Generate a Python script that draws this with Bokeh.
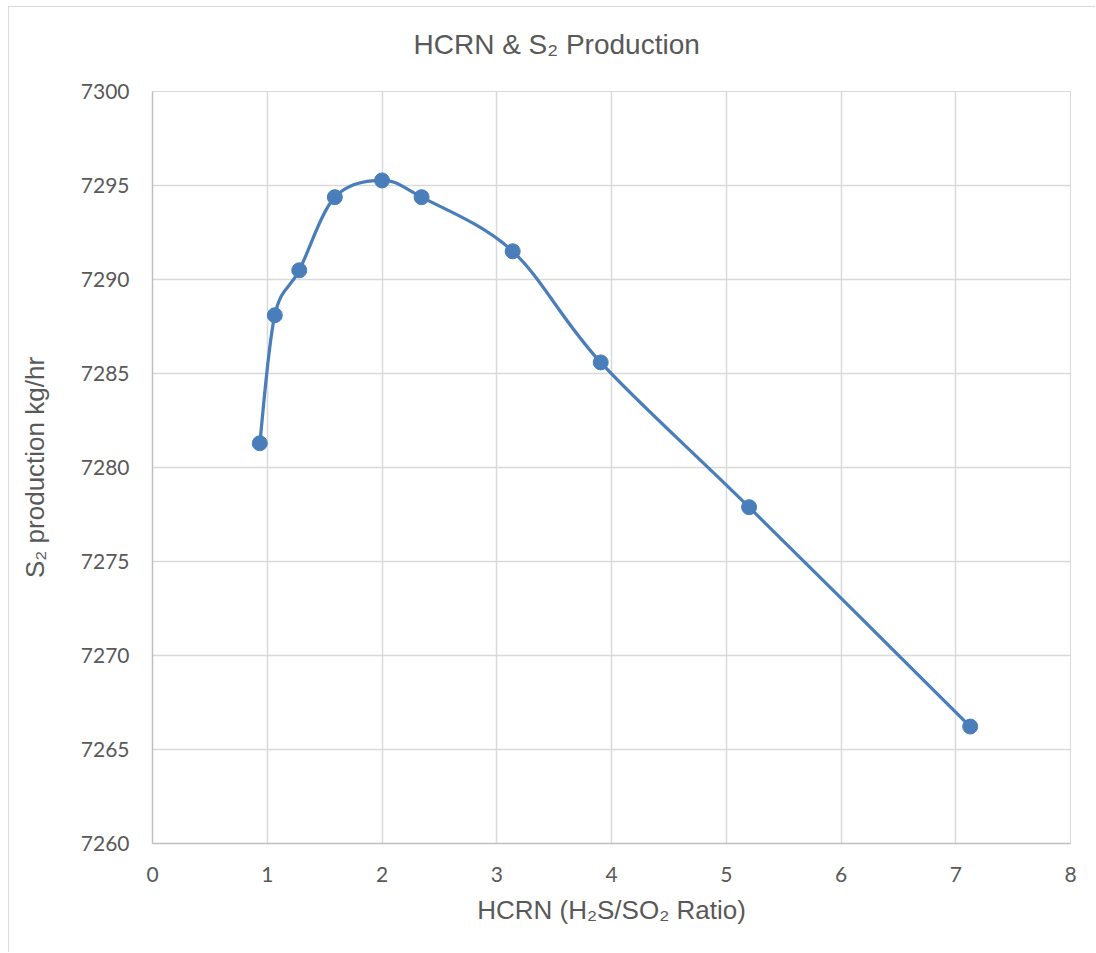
import numpy as np
from bokeh.plotting import figure
from bokeh.models import FixedTicker, ColumnDataSource
from bokeh.embed import file_html
from bokeh.resources import INLINE

# ---- data ----
hcrn = [0.935, 1.066, 1.279, 1.589, 2.0, 2.345, 3.139, 3.906, 5.199, 7.126]
s2_prod = [7281.29, 7288.10, 7290.49, 7294.38, 7295.27, 7294.38, 7291.50, 7285.59, 7277.89, 7266.22]
x_ticks = [0, 1, 2, 3, 4, 5, 6, 7, 8]
y_ticks = [7260, 7265, 7270, 7275, 7280, 7285, 7290, 7295, 7300]

title_text = "HCRN & S\u2082 Production"
x_label = "HCRN (H\u2082S/SO\u2082 Ratio)"
y_label = "S\u2082 production kg/hr"

LINE = "#4a7ebb"
TXT = "#595959"
GRID = "#d9d9d9"

p = figure(width=1087, height=946, output_backend="svg", toolbar_location=None,
           x_range=(0, 8), y_range=(7260, 7300),
           min_border_left=143, min_border_right=26, min_border_top=84, min_border_bottom=110)
p.title.text = title_text + "\n"
p.title.align = "left"
p.title.offset = 261
p.title.standoff = 2
p.title.text_font = "Liberation Sans"
p.title.text_font_size = "28px"
p.title.text_font_style = "normal"
p.title.text_color = TXT
p.outline_line_color = GRID
p.background_fill_color = "white"
p.border_fill_color = "white"

for ax in (p.xaxis[0], p.yaxis[0]):
    ax.axis_line_color = "#bfbfbf"
    ax.axis_line_width = 1.5
    ax.major_tick_line_color = None
    ax.minor_tick_line_color = None
    ax.major_tick_out = 0
    ax.major_tick_in = 0
    ax.major_label_text_font = "Lato"
    ax.major_label_text_font_size = "21px"
    ax.major_label_text_color = TXT
    ax.axis_label_text_font = "Liberation Sans"
    ax.axis_label_text_font_size = "26px"
    ax.axis_label_text_font_style = "normal"
    ax.axis_label_text_color = TXT

p.xaxis.ticker = FixedTicker(ticks=x_ticks)
p.yaxis.ticker = FixedTicker(ticks=y_ticks)
p.xaxis.major_label_standoff = 23
p.yaxis.major_label_standoff = 23
p.xaxis.axis_label = x_label
p.yaxis.axis_label = y_label
p.xaxis.axis_label_standoff = 10
p.yaxis.axis_label_standoff = 28

p.xgrid.ticker = FixedTicker(ticks=x_ticks)
p.ygrid.ticker = FixedTicker(ticks=y_ticks)
p.xgrid.grid_line_color = GRID
p.ygrid.grid_line_color = GRID
p.xgrid.grid_line_width = 1.5
p.ygrid.grid_line_width = 1.5

# smoothed line (Catmull-Rom style bezier segments through the data points)
xs = np.array(hcrn)
ys = np.array(s2_prod)
xp = np.concatenate([[xs[0]], xs, [xs[-1]]])
yp = np.concatenate([[ys[0]], ys, [ys[-1]]])
k = 1.0 / 6.0
seg = ColumnDataSource(dict(
    x0=xs[:-1], y0=ys[:-1], x1=xs[1:], y1=ys[1:],
    cx0=xs[:-1] + (xp[2:-1] - xp[0:-3]) * k,
    cy0=ys[:-1] + (yp[2:-1] - yp[0:-3]) * k,
    cx1=xs[1:] - (xp[3:] - xp[1:-2]) * k,
    cy1=ys[1:] - (yp[3:] - yp[1:-2]) * k,
))
p.bezier(x0="x0", y0="y0", x1="x1", y1="y1", cx0="cx0", cy0="cy0", cx1="cx1", cy1="cy1",
         source=seg, line_color=LINE, line_width=3.25)
p.scatter(hcrn, s2_prod, size=15, color=LINE, line_color=LINE)

p.styles = {"margin-left": "8px", "margin-top": "6px",
            "border-left": "1px solid #d9d9d9", "border-top": "1px solid #d9d9d9"}

open("out.html", "w").write(file_html(p, INLINE))
